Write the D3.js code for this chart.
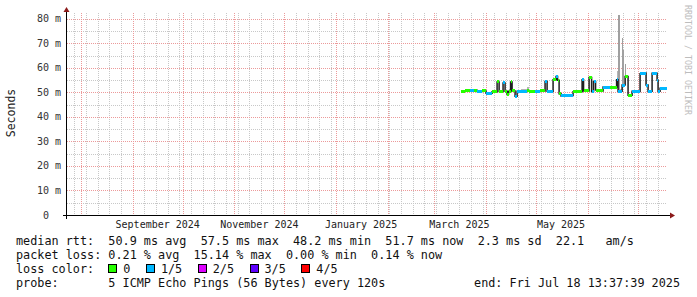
<!DOCTYPE html>
<html lang="en">
<head>
<meta charset="UTF-8">
<script src="https://cdn.jsdelivr.net/npm/d3@7"></script>
<title>SmokePing median rtt</title>
<style>
    body { margin: 0; background: #ffffff; }
    svg text { font-family: "DejaVu Sans Mono", monospace; white-space: pre; }
</style>
</head>
<body>
<div id="chart"></div>
<script>
    // Chart size
    const width = 697;
    const height = 297;

    // time window of the graph (rrdtool start / end)
    const startTime = new Date("2024-07-23T13:37:39Z");
    const endTime = new Date("2025-07-18T13:37:39Z");
    const yMaxMs = 81.6;
    const yTicksMs = [0, 10, 20, 30, 40, 50, 60, 70, 80];

    // median rtt samples: start of each step, median (ms), loss class, top of smoke (ms)
    const sampleDates = [
        "2025-03-17T00:00Z", "2025-03-19T10:00Z", "2025-03-22T10:00Z", "2025-03-24T20:00Z",
        "2025-03-26T15:00Z", "2025-03-29T15:00Z", "2025-04-01T00:00Z", "2025-04-04T15:00Z",
        "2025-04-07T15:00Z", "2025-04-08T20:00Z", "2025-04-11T05:00Z", "2025-04-12T10:00Z",
        "2025-04-13T15:00Z", "2025-04-14T12:00Z", "2025-04-15T17:00Z", "2025-04-16T15:00Z",
        "2025-04-18T10:00Z", "2025-04-19T15:00Z", "2025-04-22T00:00Z", "2025-04-25T15:00Z",
        "2025-04-26T12:00Z", "2025-04-30T10:00Z", "2025-05-03T10:00Z", "2025-05-06T10:00Z",
        "2025-05-07T15:00Z", "2025-05-11T05:00Z", "2025-05-13T00:00Z", "2025-05-13T22:00Z",
        "2025-05-14T20:00Z", "2025-05-16T00:00Z", "2025-05-21T10:00Z", "2025-05-23T05:00Z",
        "2025-05-28T15:00Z", "2025-05-29T12:00Z", "2025-06-01T20:00Z", "2025-06-03T08:00Z",
        "2025-06-04T12:00Z", "2025-06-05T17:00Z", "2025-06-06T15:00Z", "2025-06-10T05:00Z",
        "2025-06-14T10:00Z", "2025-06-18T08:00Z", "2025-06-19T05:00Z", "2025-06-21T15:00Z",
        "2025-06-23T10:00Z", "2025-06-25T05:00Z", "2025-06-27T15:00Z", "2025-06-29T10:00Z",
        "2025-07-02T10:00Z", "2025-07-03T10:00Z", "2025-07-06T00:00Z", "2025-07-07T05:00Z",
        "2025-07-09T15:00Z", "2025-07-12T15:00Z", "2025-07-13T05:00Z", "2025-07-14T10:00Z"
    ];
    const medianMs = [
        50.5, 50.7, 50.6, 50.9, 50.4, 50.6, 49.7, 50.3,
        54.3, 50.4, 53.9, 50.5, 49.3, 50.5, 54.3, 50.6,
        48.4, 50.5, 50.5, 50.7, 50.5, 50.4, 50.6, 54.5,
        50.5, 55.2, 56.5, 55.0, 49.5, 48.6, 48.8, 50.3,
        55.2, 50.6, 56.1, 50.4, 54.5, 51.0, 50.6, 52.2,
        52.2, 55.2, 50.5, 53.0, 56.5, 48.9, 50.5, 50.4,
        57.6, 57.9, 53.0, 50.5, 57.8, 55.0, 50.5, 51.7
    ];
    const lossClass = [
        0, 0, 1, 0, 1, 0, 1, 0,
        0, 0, 1, 0, 0, 0, 0, 0,
        1, 1, 1, 0, 0, 1, 0, 1,
        1, 0, 1, 0, 0, 1, 1, 0,
        1, 0, 0, 1, 1, 0, 0, 1,
        0, 1, 1, 1, 0, 0, 1, 1,
        1, 1, 1, 1, 1, 1, 1, 1
    ];
    const smokeTopMs = [
        51.0, 51.4, 51.3, 51.5, 51.0, 51.1, 50.3, 50.9,
        54.8, 51.0, 54.4, 51.2, 50.0, 51.3, 54.8, 51.3,
        49.0, 51.0, 51.4, 52.2, 51.0, 50.9, 51.1, 55.0,
        51.0, 55.7, 57.0, 55.6, 50.0, 49.1, 49.3, 50.8,
        55.7, 51.1, 56.6, 50.9, 55.0, 51.5, 51.2, 52.7,
        52.8, 58.9, 51.5, 53.6, 57.0, 49.4, 51.0, 50.9,
        58.1, 58.4, 53.5, 51.0, 58.3, 55.5, 51.0, 52.2
    ];

    // short smoke spikes (single pings far above the median)
    const spikeStart = ["2025-06-19T08:00Z", "2025-06-21T08:00Z", "2025-06-22T02:00Z", "2025-06-23T12:00Z"];
    const spikeEnd = ["2025-06-20T02:00Z", "2025-06-22T00:00Z", "2025-06-22T18:00Z", "2025-06-24T06:00Z"];
    const spikeTopMs = [81.6, 72.4, 67.2, 61.6];
    const spikeLowMs = [50.5, 50.5, 53.0, 53.0];

    // legend
    const lossLabels = ["0", "1/5", "2/5", "3/5", "4/5"];
    const lossColors = ["#26ff00", "#00b8ff", "#dd00ff", "#5e00ff", "#ff0000"];
    const legendLines = [
        "median rtt:  50.9 ms avg  57.5 ms max  48.2 ms min  51.7 ms now  2.3 ms sd  22.1   am/s",
        "packet loss: 0.21 % avg  15.14 % max  0.00 % min  0.14 % now",
        "loss color:",
        "probe:       5 ICMP Echo Pings (56 Bytes) every 120s"
    ];
    const endLabel = "end: Fri Jul 18 13:37:39 2025";

    const plot = { left: 67, right: 667, top: 15, bottom: 215 };

    const svg = d3.select("#chart").append("svg")
        .attr("width", width)
        .attr("height", height);

    const x = d3.scaleUtc().domain([startTime, endTime]).range([plot.left, plot.right]);
    const y = d3.scaleLinear().domain([0, yMaxMs]).range([plot.bottom, plot.top]);
    const px = v => Math.round(v) + 0.5;

    // grid (dotted, 1px on / 1px off like rrdtool)
    const grid = svg.append("g");
    const minorCol = "#c8c8c8", majorCol = "#ec9a9a";

    const vLine = (d, col) => grid.append("line")
        .attr("x1", px(x(d))).attr("x2", px(x(d)))
        .attr("y1", plot.top - 2).attr("y2", plot.bottom)
        .attr("stroke", col).attr("stroke-width", 1).attr("stroke-dasharray", "1 1");
    const hLine = (v, col) => grid.append("line")
        .attr("x1", plot.left).attr("x2", plot.right)
        .attr("y1", px(y(v))).attr("y2", px(y(v)))
        .attr("stroke", col).attr("stroke-width", 1).attr("stroke-dasharray", "1 1");

    d3.utcSunday.range(startTime, endTime).forEach(d => vLine(d, minorCol));
    d3.range(5, yMaxMs, 10).forEach(v => hLine(v, minorCol));
    d3.utcMonth.range(d3.utcMonth.ceil(startTime), endTime).forEach(d => vLine(d, majorCol));
    yTicksMs.filter(v => v > 0).forEach(v => hLine(v, majorCol));

    // data
    const samples = sampleDates.map((d, i) => ({
        t0: new Date(d),
        t1: i + 1 < sampleDates.length ? new Date(sampleDates[i + 1]) : endTime,
        med: medianMs[i],
        loss: lossClass[i],
        top: smokeTopMs[i]
    }));

    const smoke = svg.append("g").attr("shape-rendering", "crispEdges");

    smoke.selectAll("rect.smoke").data(samples).enter().append("rect")
        .attr("class", "smoke")
        .attr("x", d => x(d.t0))
        .attr("width", d => x(d.t1) - x(d.t0))
        .attr("y", d => y(d.top))
        .attr("height", d => y(d.med - 0.3) - y(d.top))
        .attr("fill", "#b4b4b4");

    const spikes = spikeStart.map((d, i) => ({
        t0: new Date(d), t1: new Date(spikeEnd[i]), top: spikeTopMs[i], low: spikeLowMs[i]
    }));
    smoke.selectAll("rect.spike").data(spikes).enter().append("rect")
        .attr("class", "spike")
        .attr("x", d => x(d.t0))
        .attr("width", d => Math.max(1, x(d.t1) - x(d.t0)))
        .attr("y", d => y(d.top))
        .attr("height", d => y(d.low) - y(d.top))
        .attr("fill", "#a0a0a0");

    // median step line (dark) under the loss colored segments
    const stepPts = samples.map(d => [d.t0, d.med]);
    stepPts.push([endTime, medianMs[medianMs.length - 1]]);
    const stepLine = d3.line()
        .x(d => x(d[0]))
        .y(d => y(d[1]))
        .curve(d3.curveStepAfter);
    svg.append("path")
        .attr("d", stepLine(stepPts))
        .attr("fill", "none")
        .attr("stroke", "#202020")
        .attr("stroke-width", 1.5);

    svg.append("g").attr("shape-rendering", "crispEdges")
        .selectAll("line").data(samples).enter().append("line")
        .attr("x1", d => x(d.t0))
        .attr("x2", d => x(d.t1))
        .attr("y1", d => y(d.med))
        .attr("y2", d => y(d.med))
        .attr("stroke", d => lossColors[d.loss])
        .attr("stroke-width", 3);

    // axes
    const axisCol = "#000000", arrowCol = "#8b1a1a";
    svg.append("line").attr("x1", plot.left - 4).attr("x2", plot.right + 4)
        .attr("y1", plot.bottom + 0.5).attr("y2", plot.bottom + 0.5)
        .attr("stroke", axisCol);
    svg.append("line").attr("x1", plot.left - 0.5).attr("x2", plot.left - 0.5)
        .attr("y1", plot.bottom + 4).attr("y2", plot.top - 4)
        .attr("stroke", axisCol);
    svg.append("path")
        .attr("d", `M${plot.right + 3},${plot.bottom - 2.5}L${plot.right + 8},${plot.bottom + 0.5}L${plot.right + 3},${plot.bottom + 3.5}Z`)
        .attr("fill", arrowCol);
    svg.append("path")
        .attr("d", `M${plot.left - 3.5},${plot.top - 3}L${plot.left - 0.5},${plot.top - 8}L${plot.left + 2.5},${plot.top - 3}Z`)
        .attr("fill", arrowCol);

    // y labels
    svg.append("g").selectAll("text").data(yTicksMs).enter().append("text")
        .attr("x", 61)
        .attr("y", d => y(d) + 3.5)
        .attr("text-anchor", "end")
        .attr("font-size", "10px")
        .attr("fill", "#333333")
        .text(d => d === 0 ? "0  " : `${d} m`);

    // x labels, centered half a month after each second month start, dropped if they run off the plot
    const fmtMonth = d3.utcFormat("%B %Y");
    const labelMonths = d3.utcMonth.every(2).range(startTime, endTime)
        .filter(d => x(d3.utcDay.offset(d, 15)) + fmtMonth(d).length * 3 <= plot.right);
    svg.append("g").selectAll("text").data(labelMonths).enter().append("text")
        .attr("x", d => x(d3.utcDay.offset(d, 15)))
        .attr("y", 228)
        .attr("text-anchor", "middle")
        .attr("font-size", "10px")
        .attr("fill", "#222222")
        .text(fmtMonth);

    svg.append("text")
        .attr("transform", "translate(15,113) rotate(-90)")
        .attr("text-anchor", "middle")
        .attr("font-size", "11.5px")
        .attr("fill", "#222222")
        .text("Seconds");

    svg.append("text")
        .attr("transform", "translate(685,5) rotate(90)")
        .attr("font-size", "9px")
        .attr("textLength", 110)
        .attr("lengthAdjust", "spacingAndGlyphs")
        .attr("fill", "#bdbdbd")
        .text("RRDTOOL / TOBI OETIKER");

    // legend
    const charW = 7.1;
    const legend = svg.append("g").attr("font-size", "11.8px").attr("fill", "#111111");
    const lineY = [245, 259, 273, 287];
    legendLines.forEach((t, i) => {
        legend.append("text").attr("x", 16).attr("y", lineY[i]).text(t);
    });
    legend.append("text").attr("x", 680).attr("y", lineY[3])
        .attr("text-anchor", "end").text(endLabel);

    let bx = 16 + 13 * charW;
    lossLabels.forEach((lab, i) => {
        legend.append("rect")
            .attr("x", Math.round(bx) + 0.5).attr("y", 264.5)
            .attr("width", 8).attr("height", 8)
            .attr("fill", lossColors[i]).attr("stroke", "#000000");
        legend.append("text").attr("x", bx + 15).attr("y", lineY[2]).text(lab);
        bx += 15 + lab.length * charW + 15.5;
    });
</script>
</body>
</html>
